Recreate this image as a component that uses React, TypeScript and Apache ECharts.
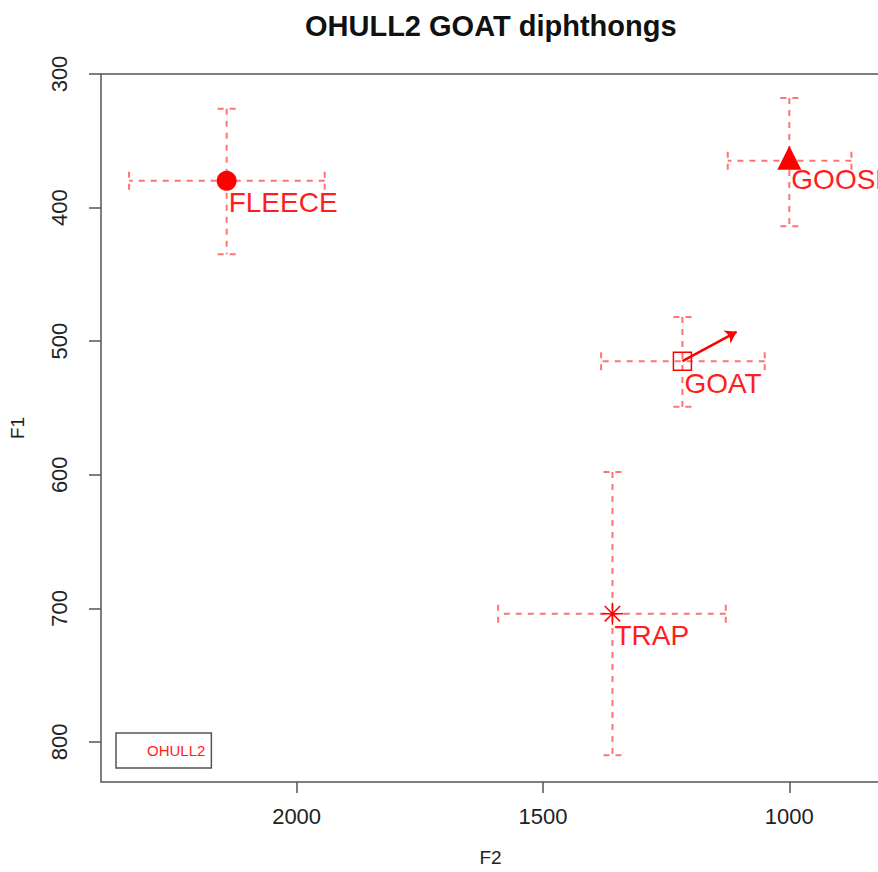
import React, { useEffect, useRef } from "react";
import * as echarts from "echarts";

// Vowel categories and their mean formant values (Hz)
const vowels = ["FLEECE", "GOOSE", "GOAT", "TRAP"];
const f2Mean = [2142, 1000, 1217, 1359];
const f1Mean = [380, 365, 515, 704];
// Spread (error bar extents)
const f2Low = [1943, 874, 1050, 1129];
const f2High = [2340, 1125, 1382, 1591];
const f1Low = [326, 318, 482, 598];
const f1High = [435, 414, 549, 810];
// GOAT diphthong trajectory end point
const goatEnd = [1107, 493];
// Tick labels
const f2Ticks = [1000, 1500, 2000];
const f1Ticks = [300, 400, 500, 600, 700, 800];
const speaker = "OHULL2";

const FONT = "Liberation Sans";
const RED = "#ff0000";
const RED_TEXT = "#ff1e1e";
const BAR = "rgba(255,0,0,0.55)";

const symbols = ["circle", "triangle", "rect", "path://M10,0L10,20M0,10L20,10M3,3L17,17M3,17L17,3"];
const symbolSizes = [20, 24, 18, 22];

export default function App() {
  const ref = useRef<HTMLDivElement>(null);
  useEffect(() => {
    if (!ref.current) return;
    const chart = echarts.init(ref.current, null, { renderer: "svg" });

    const points = vowels.map((v, i) => {
      const hollow = i >= 2;
      return {
        name: v,
        value: [f2Mean[i], f1Mean[i]],
        symbol: symbols[i],
        symbolSize: symbolSizes[i],
        symbolOffset: i === 1 ? [0, -3] : [0, 0],
        itemStyle: hollow
          ? { color: "transparent", borderColor: RED, borderWidth: 1.5, opacity: 1 }
          : { color: RED, borderWidth: 0, opacity: 1 },
      };
    });

    const bars = vowels.map((v, i) => ({
      name: v,
      value: [f2Mean[i], f1Mean[i], f2Low[i], f2High[i], f1Low[i], f1High[i]],
    }));

    const cap = 9;
    const lineStyle = { stroke: BAR, lineWidth: 2, lineDash: [6, 6], fill: null };
    const plain = (v: number) => String(v);

    const option: any = {
      animation: false,
      textStyle: { fontFamily: FONT },
      title: {
        text: "OHULL2 GOAT diphthongs",
        left: 305,
        top: 11,
        padding: 0,
        textStyle: { fontFamily: FONT, fontSize: 29, fontWeight: "bold", color: "#111" },
      },
      legend: {
        data: [speaker],
        left: 116,
        top: 733,
        orient: "horizontal",
        padding: [10, 6, 10, 9],
        itemWidth: 20,
        itemHeight: 14,
        borderColor: "#555",
        borderWidth: 1.5,
        selectedMode: false,
        itemStyle: { color: "transparent", borderColor: "transparent", borderWidth: 0 },
        textStyle: { color: RED_TEXT, fontSize: 15, fontFamily: FONT },
      },
      grid: {
        left: 101,
        top: 74,
        width: 779,
        height: 708,
        show: true,
        borderColor: "#555",
        borderWidth: 1.5,
        backgroundColor: "transparent",
      },
      xAxis: {
        type: "value",
        inverse: true,
        min: 816,
        max: 2397,
        name: "F2",
        nameLocation: "middle",
        nameGap: 66,
        nameTextStyle: { fontSize: 19, color: "#222", fontFamily: FONT },
        axisLine: { show: false },
        splitLine: { show: false },
        axisTick: { show: true, length: 11, customValues: f2Ticks, lineStyle: { color: "#555", width: 1.5 } },
        axisLabel: { customValues: f2Ticks, formatter: plain, fontSize: 22, color: "#222", margin: 23, fontFamily: FONT },
      },
      yAxis: {
        type: "value",
        inverse: true,
        min: 300,
        max: 830,
        name: "F1",
        nameLocation: "middle",
        nameGap: 74,
        nameRotate: 90,
        nameTextStyle: { fontSize: 19, color: "#222", fontFamily: FONT },
        axisLine: { show: false },
        splitLine: { show: false },
        axisTick: { show: true, length: 12, customValues: f1Ticks, lineStyle: { color: "#555", width: 1.5 } },
        axisLabel: { customValues: f1Ticks, formatter: plain, rotate: 90, fontSize: 22, color: "#222", margin: 31, fontFamily: FONT },
      },
      series: [
        {
          name: "spread",
          type: "custom",
          z: 1,
          clip: false,
          encode: { x: [0, 2, 3], y: [1, 4, 5] },
          data: bars,
          renderItem: (params: any, api: any) => {
            const x = api.value(0);
            const y = api.value(1);
            const l = api.coord([api.value(2), y]);
            const r = api.coord([api.value(3), y]);
            const t = api.coord([x, api.value(4)]);
            const b = api.coord([x, api.value(5)]);
            const mk = (x1: number, y1: number, x2: number, y2: number) => ({
              type: "line",
              shape: { x1, y1, x2, y2 },
              style: lineStyle,
            });
            return {
              type: "group",
              children: [
                mk(l[0], l[1], r[0], r[1]),
                mk(t[0], t[1], b[0], b[1]),
                mk(l[0], l[1] - cap, l[0], l[1] + cap),
                mk(r[0], r[1] - cap, r[0], r[1] + cap),
                mk(t[0] - cap, t[1], t[0] + cap, t[1]),
                mk(b[0] - cap, b[1], b[0] + cap, b[1]),
              ],
            };
          },
        },
        {
          name: "trajectory",
          type: "lines",
          coordinateSystem: "cartesian2d",
          z: 3,
          symbol: ["none", "arrow"],
          symbolSize: 11,
          lineStyle: { color: RED, width: 2.5, opacity: 1, curveness: 0 },
          data: [{ coords: [[f2Mean[2], f1Mean[2]], goatEnd] }],
        },
        {
          name: speaker,
          type: "scatter",
          z: 4,
          itemStyle: { opacity: 1 },
          data: points,
          label: {
            show: true,
            position: "inside",
            align: "left",
            verticalAlign: "top",
            offset: [2, 8],
            formatter: (p: any) => p.name,
            color: RED_TEXT,
            opacity: 1,
            fontSize: 28,
            fontFamily: FONT,
            textBorderWidth: 0,
          },
        },
      ],
    };

    chart.setOption(option);
    return () => chart.dispose();
  }, []);

  return (
    <div
      style={{ position: "absolute", left: 0, top: 0, width: 878, height: 872, overflow: "hidden", background: "#fff" }}
    >
      <div ref={ref} style={{ width: 920, height: 872 }} />
    </div>
  );
}
